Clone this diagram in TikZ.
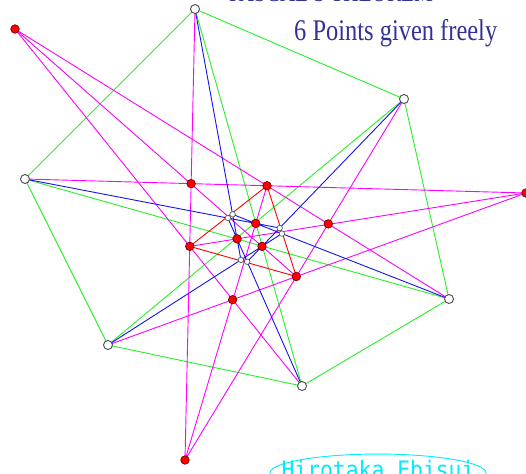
\documentclass[tikz,border=0pt]{standalone}
\usepackage{graphicx}
\usepackage{fontspec}
\setmainfont{Liberation Serif}
\newfontfamily\signfont{DejaVu Sans Mono}
\usetikzlibrary{calc}
\definecolor{hexgreen}{RGB}{40,240,40}
\definecolor{lineblue}{RGB}{20,20,235}
\definecolor{linemag}{RGB}{255,0,255}
\definecolor{titleblue}{RGB}{50,50,150}
\definecolor{signcyan}{RGB}{0,235,255}

\begin{document}
\begin{tikzpicture}[x=1pt, y=-1pt,
    vtx/.style={circle, draw=black!70, fill=white, line width=0.9pt, inner sep=0pt, minimum size=9pt},
    redpt/.style={circle, draw=red!45!black, fill=red, line width=0.7pt, inner sep=0pt, minimum size=8.5pt},
    starpt/.style={circle, draw=black!65, fill=white, line width=0.7pt, inner sep=0pt, minimum size=5.5pt},
    gline/.style={draw=hexgreen, line width=0.9pt},
    bline/.style={draw=lineblue, line width=0.9pt},
    mline/.style={draw=linemag, line width=0.9pt},
    rline/.style={draw=red, line width=0.9pt},
    titletext/.style={text=titleblue, inner sep=0pt, font=\fontsize{30pt}{30pt}\selectfont}
    ]
    \useasboundingbox (0,0) rectangle (526,473);

    \coordinate (A) at (195,9);
    \coordinate (B) at (404,99);
    \coordinate (C) at (449,299);
    \coordinate (D) at (302,386);
    \coordinate (E) at (108,345);
    \coordinate (F) at (25,179);
    \coordinate (R1) at (15,29);
    \coordinate (R2) at (526,193);
    \coordinate (R3) at (185,460);

    \coordinate (R4) at (intersection of A--R3 and F--R2);
    \coordinate (R5) at (intersection of R1--C and F--R2);
    \coordinate (R6) at (intersection of B--R3 and R1--C);
    \coordinate (R7) at (intersection of B--R3 and E--R2);
    \coordinate (R8) at (intersection of R1--D and E--R2);
    \coordinate (R9) at (intersection of A--R3 and R1--D);
    \coordinate (R10) at ($(R3)!0.8628!(R5)$);
    \coordinate (R11) at ($(R2)!0.8593!(R9)$);
    \coordinate (R12) at ($(R1)!0.878!(R7)$);

    \coordinate (S1a) at (intersection of D--R11 and F--R10);
    \coordinate (S1b) at (intersection of A--R11 and C--R10);
    \coordinate (S2a) at (intersection of F--R10 and B--R12);
    \coordinate (S2b) at (intersection of C--R10 and E--R12);
    \coordinate (S3a) at (intersection of A--R11 and E--R12);
    \coordinate (S3b) at (intersection of B--R12 and D--R11);

    \draw[gline] (A) -- (B) -- (C) -- (D) -- (E) -- (F) -- cycle;
    \draw[gline] (A) -- (D) (B) -- (E) (C) -- (F);

    \draw[mline] (A) -- (R3) (B) -- (R3);
    \draw[mline] (R1) -- (C) (R1) -- (D);
    \draw[mline] (E) -- (R2) (F) -- (R2);
    \draw[mline] (R1) -- (R7) (R2) -- (R9) (R3) -- (R5);

    \draw[bline] (A) -- (S3a) (D) -- (S1a);
    \draw[bline] (F) -- (S2a) (C) -- (S1b);
    \draw[bline] (B) -- (S3b) (E) -- (S2b);

    \draw[rline] (R5) -- (R9) -- (R7) -- cycle;

    \foreach \p in {A,B,C,D,E,F}
        \node[vtx] (v\p) at (\p) {};
    \foreach \p in {R1,R2,R3,R4,R5,R6,R7,R8,R9,R10,R11,R12}
        \node[redpt] (p\p) at (\p) {};
    \foreach \p in {S1a,S1b,S2a,S2b,S3a,S3b}
        \node[starpt] (s\p) at (\p) {};

    \node[titletext, anchor=base, font=\fontsize{26pt}{26pt}\selectfont] (title) at (331,1.5) {\scalebox{0.815}[1]{PASCAL'S THEOREM}};
    \node[titletext, anchor=base west] (subtitle) at (294,40.5) {\scalebox{0.815}[1]{6 Points given freely}};

    \node[anchor=base, text=signcyan, inner sep=0pt, font=\signfont\fontsize{24pt}{24pt}\selectfont] (sign) at (378,478) {\scalebox{0.89}[1]{Hirotaka Ebisui}};
    \draw[signcyan, line width=0.9pt] ([yshift=-4pt]sign.center) ellipse [x radius=108, y radius=19];
\end{tikzpicture}
\end{document}
